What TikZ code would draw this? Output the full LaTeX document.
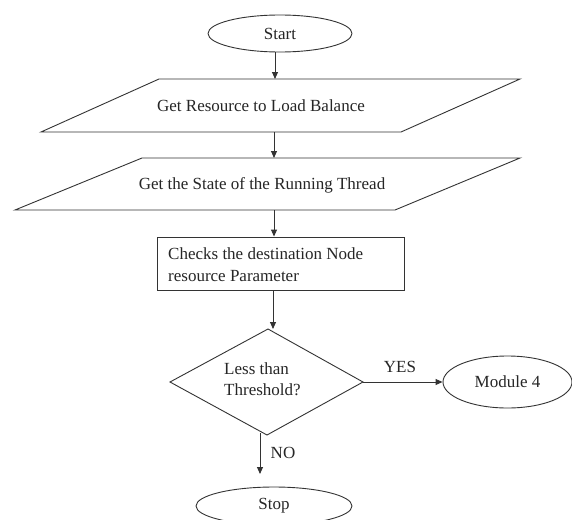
\documentclass[tikz,border=0pt]{standalone}
\usepackage{fontspec}
\setmainfont{Liberation Serif}
\usetikzlibrary{shapes.geometric,arrows.meta}
\begin{document}
\begin{tikzpicture}[x=1pt,y=-1pt,
  line/.style={draw=black!80,line width=0.9pt},
  arr/.style={line,-{Triangle[length=7pt,width=6pt]}},
  txt/.style={font=\fontsize{17}{21.5}\selectfont,text=black!85,inner sep=0pt},
  oval/.style={line,ellipse,inner sep=0pt,font=\fontsize{17}{21}\selectfont,text=black!85}]
\useasboundingbox[fill=white] (0,0) rectangle (572,519);
% Start
\node[oval,minimum width=144pt,minimum height=37pt] (start) at (280,33.5) {Start};
% parallelogram 1
\draw[line] (159,79) -- (520,79) -- (401,132) -- (41,132) -- cycle;
\coordinate (p1n) at (275,79);
\coordinate (p1s) at (274,132);
\node[txt] (p1) at (261,106) {Get Resource to Load Balance};
% parallelogram 2
\draw[line] (142,158) -- (520,158) -- (395,210) -- (15,210) -- cycle;
\coordinate (p2n) at (274,158);
\coordinate (p2s) at (274,210);
\node[txt] (p2) at (262,185) {Get the State of the Running Thread};
% box
\node[line,rectangle,minimum width=247pt,minimum height=53pt,inner sep=0pt] (box) at (280.5,263.5) {};
\node[txt,align=left,anchor=west] (boxt) at (168,264.5) {Checks the destination Node\\resource Parameter};
% diamond
\coordinate (dn) at (268,329);
\coordinate (de) at (363,382);
\coordinate (ds) at (267,435);
\coordinate (dw) at (170,382);
\draw[line] (dn) -- (de) -- (ds) -- (dw) -- cycle;
\node[txt,align=left,anchor=west] (dt) at (224,379) {Less than\\Threshold?};
% module 4
\node[oval,minimum width=129pt,minimum height=52pt] (mod) at (507.5,382) {Module 4};
% stop
\node[oval,minimum width=156pt,minimum height=38pt] (stop) at (274,506) {Stop};
% connectors
\draw[arr] (p1n |- start.south) -- (p1n);
\draw[arr] (p1s) -- (p2n);
\draw[arr] (p2s) -- (p2s |- box.north);
\draw[arr] (273,290) -- (273,329);
\draw[arr] (de) -- (mod.west);
\coordinate (noa) at (260,433);
\coordinate (nob) at (260,474);
\draw[arr] (noa) -- (nob);
\node[txt] (yes) at (400,367) {YES};
\node[txt] (no) at (283,453) {NO};
\end{tikzpicture}
\end{document}
